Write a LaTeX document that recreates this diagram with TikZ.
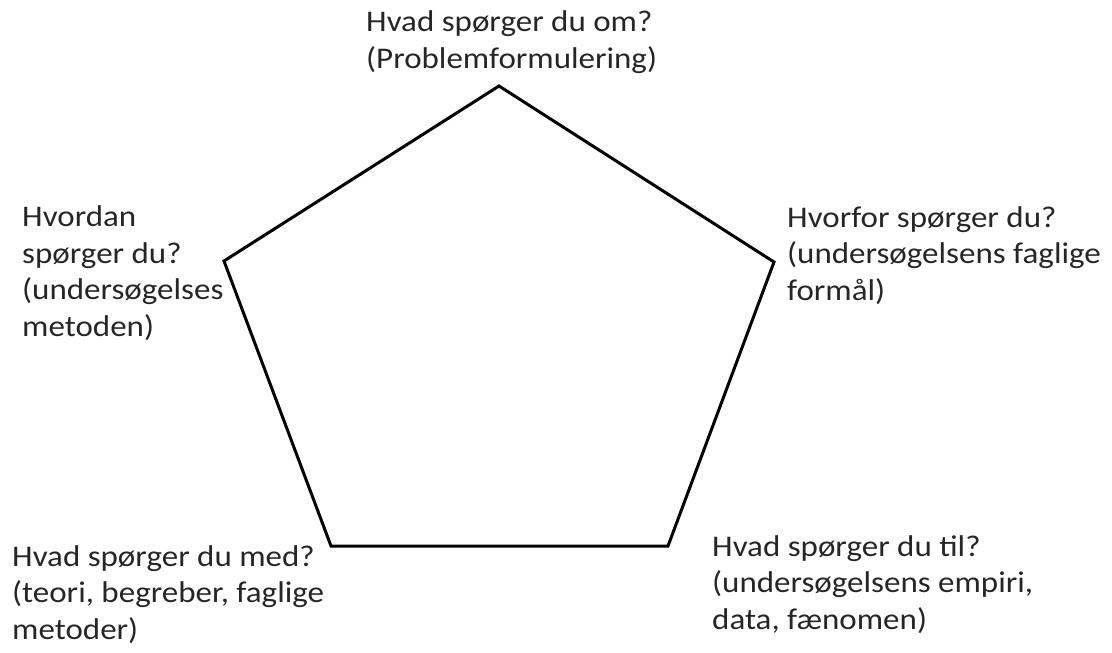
\documentclass[tikz,border=0pt]{standalone}
\usepackage{fontspec}
\setmainfont{Carlito}[FakeStretch=1.1]
\usepackage{tikz}
\usetikzlibrary{positioning}

\tikzset{
  label text/.style={inner sep=0pt, anchor=base west, align=left,
    text=black!85, font=\fontsize{30}{36.5}\selectfont},
  side/.style={line width=3pt, line join=miter}
}

\begin{document}
\begin{tikzpicture}[x=1pt, y=-1pt]
\useasboundingbox (0,0) rectangle (1112,653);
% corners of the pentagon
\coordinate (top) at (499,86);
\coordinate (right) at (774,262);
\coordinate (botright) at (668,546);
\coordinate (botleft) at (331,546);
\coordinate (left) at (224,261);
\draw[side] (top) -- (right) -- (botright) -- (botleft) -- (left) -- cycle;
% questions (placed at the baseline of their last line)
\node[label text] (problem) at (366,68) {Hvad spørger du om?\\(Problemformulering)};
\node[label text] (formaal) at (787,300) {Hvorfor spørger du?\\(undersøgelsens faglige\\formål)};
\node[label text] (empiri) at (712,629) {Hvad spørger du til?\\(undersøgelsens empiri,\\data, fænomen)};
\node[label text] (teori) at (12,639) {Hvad spørger du med?\\(teori, begreber, faglige\\metoder)};
\node[label text] (metode) at (22,336) {Hvordan\\spørger du?\\(undersøgelses\\metoden)};
\end{tikzpicture}
\end{document}
